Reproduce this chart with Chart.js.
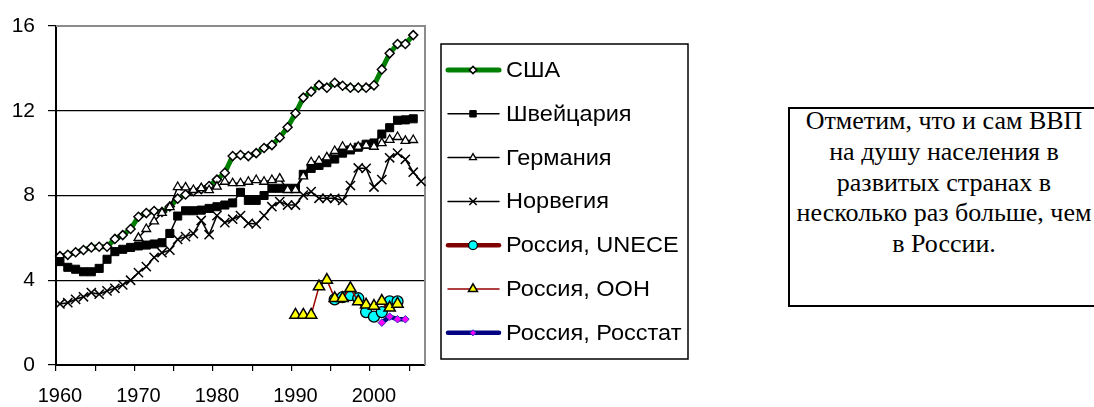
<!DOCTYPE html>
<html>
<head>
<meta charset="utf-8">
<script src="https://cdn.jsdelivr.net/npm/chart.js@4.4.1/dist/chart.umd.min.js"></script>
<style>
  body { margin: 0; background: #fff; width: 1094px; height: 407px; overflow: hidden; position: relative; }
  #chart { position: absolute; left: 0; top: 0; }
  #note {
    position: absolute; left: 788px; top: 107px; width: 312px; height: 196px;
    border: 2px solid #000; box-sizing: content-box;
    font-family: "Liberation Serif", "Times New Roman", serif; font-size: 26px; line-height: 30.8px;
    text-align: center; white-space: nowrap; color: #000;
  }
  #note div { position: relative; top: -3px; left: -2px; }
</style>
</head>
<body>
<canvas id="chart" width="700" height="407"></canvas>
<div id="note"><div>Отметим, что и сам ВВП<br>на душу населения в<br>развитых странах в<br>несколько раз больше, чем<br>в России.</div></div>
<script>
// годы (категории оси X)
const years = [1960, 1961, 1962, 1963, 1964, 1965, 1966, 1967, 1968, 1969,
  1970, 1971, 1972, 1973, 1974, 1975, 1976, 1977, 1978, 1979,
  1980, 1981, 1982, 1983, 1984, 1985, 1986, 1987, 1988, 1989,
  1990, 1991, 1992, 1993, 1994, 1995, 1996, 1997, 1998, 1999,
  2000, 2001, 2002, 2003, 2004, 2005, 2006];

const yTicks = [0, 4, 8, 12, 16];

// США, 1960-2005
const usa = [5.14, 5.2, 5.32, 5.43, 5.55, 5.58, 5.58, 5.95, 6.13, 6.42,
  7.0, 7.17, 7.27, 7.22, 7.48, 7.85, 8.05, 8.2, 8.3, 8.45,
  8.75, 9.07, 9.86, 9.91, 9.86, 10.0, 10.24, 10.38, 10.74, 11.22,
  11.88, 12.62, 12.9, 13.21, 13.09, 13.32, 13.18, 13.09, 13.09, 13.09,
  13.2, 13.95, 14.71, 15.15, 15.15, 15.57];
// Швейцария, 1960-2005
const swiss = [4.88, 4.61, 4.52, 4.4, 4.4, 4.56, 4.99, 5.35, 5.46, 5.55,
  5.62, 5.66, 5.71, 5.77, 6.21, 7.03, 7.28, 7.28, 7.31, 7.39,
  7.47, 7.55, 7.65, 8.15, 7.77, 7.77, 8.0, 8.34, 8.34, 8.34,
  8.34, 9.0, 9.28, 9.42, 9.55, 9.72, 10.0, 10.15, 10.28, 10.42,
  10.48, 10.9, 11.2, 11.55, 11.57, 11.62];
// Германия, 1970-2005
const germany = [6.0, 6.42, 6.78, 7.18, 7.45, 8.4, 8.38, 8.26, 8.35, 8.25,
  8.42, 8.65, 8.58, 8.58, 8.65, 8.73, 8.65, 8.73, 8.8, 8.26,
  8.26, 8.9, 9.57, 9.63, 9.8, 10.1, 10.3, 10.22, 10.3, 10.36,
  10.3, 10.47, 10.63, 10.76, 10.58, 10.62];
// Норвегия, 1960-2006
const norway = [2.88, 2.94, 3.1, 3.22, 3.42, 3.34, 3.5, 3.62, 3.78, 4.0,
  4.36, 4.64, 5.08, 5.3, 5.42, 5.93, 6.06, 6.2, 6.82, 6.15,
  7.05, 6.72, 6.88, 7.05, 6.69, 6.66, 7.05, 7.47, 7.71, 7.55,
  7.55, 8.02, 8.18, 7.87, 7.87, 7.87, 7.77, 8.47, 9.3, 9.28,
  8.4, 8.75, 9.78, 10.0, 9.71, 9.1, 8.67];
// Россия, UNECE, 1995-2003
const rusUnece = [3.1, 3.2, 3.3, 3.15, 2.5, 2.28, 2.5, 3.0, 3.0];
// Россия, ООН, 1990-2003
const rusUn = [2.36, 2.36, 2.36, 3.7, 4.01, 3.15, 3.15, 3.62, 3.0, 2.84,
  2.78, 3.02, 2.7, 2.88];
// Россия, Росстат, 2001-2004
const rusRosstat = [2.0, 2.28, 2.16, 2.16];

// выравниваем ряд по оси годов
function pad(startYear, values) {
  return years.map(y => {
    const i = y - startYear;
    return i >= 0 && i < values.length ? values[i] : null;
  });
}

const FONT = '"Liberation Sans", Arial, sans-serif';

const datasets = [
  { label: "США", data: pad(1960, usa), borderColor: "#008000", borderWidth: 5,
    pointStyle: "rectRot", pointRadius: 4.5, pointBackgroundColor: "#fff", pointBorderColor: "#000", pointBorderWidth: 1.5 },
  { label: "Швейцария", data: pad(1960, swiss), borderColor: "#000", borderWidth: 1.5,
    pointStyle: "rect", pointRadius: 5.7, pointBackgroundColor: "#000", pointBorderColor: "#000", pointBorderWidth: 1 },
  { label: "Германия", data: pad(1970, germany), borderColor: "#000", borderWidth: 1.5,
    pointStyle: "triangle", pointRadius: 5, pointBackgroundColor: "#fff", pointBorderColor: "#000", pointBorderWidth: 1.3 },
  { label: "Норвегия", data: pad(1960, norway), borderColor: "#000", borderWidth: 1.5,
    pointStyle: "crossRot", pointRadius: 6.5, pointBackgroundColor: "#000", pointBorderColor: "#000", pointBorderWidth: 1.5 },
  { label: "Россия, UNECE", data: pad(1995, rusUnece), borderColor: "#800000", borderWidth: 4.5,
    pointStyle: "circle", pointRadius: 5.5, pointBackgroundColor: "#00ffff", pointBorderColor: "#000", pointBorderWidth: 1.3 },
  { label: "Россия, ООН", data: pad(1990, rusUn), borderColor: "#990000", borderWidth: 1.5,
    pointStyle: "triangle", pointRadius: 6.5, pointBackgroundColor: "#ffff00", pointBorderColor: "#000", pointBorderWidth: 1.5 },
  { label: "Россия, Росстат", data: pad(2001, rusRosstat), borderColor: "#000080", borderWidth: 4.5,
    pointStyle: "rectRot", pointRadius: 3.8, pointBackgroundColor: "#ff00ff", pointBorderColor: "#3030c0", pointBorderWidth: 1 }
];
// как в Excel: следующий ряд рисуется поверх предыдущего
datasets.forEach((ds, i) => {
  ds.order = datasets.length - i;
  ds.tension = 0;
  ds.fill = false;
  ds.pointHoverRadius = ds.pointRadius;
});

// рамка области построения (серая сверху и справа)
const plotBorder = {
  id: "plotBorder",
  beforeDatasetsDraw(chart) {
    const { ctx, chartArea: a } = chart;
    ctx.save();
    ctx.strokeStyle = "#8c8c8c";
    ctx.lineWidth = 2;
    ctx.beginPath();
    ctx.moveTo(a.left, a.top);
    ctx.lineTo(a.right, a.top);
    ctx.lineTo(a.right, a.bottom);
    ctx.stroke();
    ctx.restore();
  }
};

// легенда в рамке, как в Excel
const boxLegend = {
  id: "boxLegend",
  afterDraw(chart) {
    const ctx = chart.ctx;
    const left = 441, top = 44, right = 688, bottom = 359;
    ctx.save();
    ctx.fillStyle = "#fff";
    ctx.fillRect(left, top, right - left, bottom - top);
    ctx.strokeStyle = "#000";
    ctx.lineWidth = 1.5;
    ctx.strokeRect(left, top, right - left, bottom - top);
    ctx.font = "22px " + FONT;
    ctx.textBaseline = "middle";
    chart.data.datasets.forEach((ds, i) => {
      const y = 70 + i * 43.8;
      ctx.strokeStyle = ds.borderColor;
      ctx.lineWidth = ds.borderWidth;
      ctx.lineCap = "round";
      ctx.beginPath();
      ctx.moveTo(448, y);
      ctx.lineTo(499, y);
      ctx.stroke();
      ctx.lineCap = "butt";
      ctx.fillStyle = ds.pointBackgroundColor;
      ctx.strokeStyle = ds.pointBorderColor;
      ctx.lineWidth = ds.pointBorderWidth;
      Chart.helpers.drawPoint(ctx, {
        pointStyle: ds.pointStyle, radius: ds.pointRadius * 0.8,
        borderWidth: ds.pointBorderWidth, rotation: 0
      }, 473, y);
      ctx.fillStyle = "#000";
      ctx.save();
      ctx.translate(506, y + 1);
      ctx.scale(1.07, 1);
      ctx.fillText(ds.label, 0, 0);
      ctx.restore();
    });
    ctx.restore();
  }
};

new Chart(document.getElementById("chart"), {
  type: "line",
  data: { labels: years, datasets: datasets },
  options: {
    responsive: false,
    animation: false,
    layout: { padding: { top: 26, right: 700 - 425, left: 0, bottom: 0 } },
    plugins: { legend: { display: false }, tooltip: { enabled: false } },
    scales: {
      x: {
        type: "category",
        offset: true,
        afterFit(scale) { scale.height = 42; },
        grid: {
          offset: true,
          drawOnChartArea: false,
          drawTicks: true,
          tickLength: 6,
          lineWidth: 1.2,
          color: ctx => (years[ctx.index] !== undefined && years[ctx.index] % 5 === 0) ? "#000" : "rgba(0,0,0,0)"
        },
        border: { display: true, color: "#000", width: 2 },
        ticks: {
          autoSkip: false,
          maxRotation: 0,
          minRotation: 0,
          padding: 13,
          color: "#000",
          font: { family: FONT, size: 20 },
          callback: (val, i) => years[i] % 10 === 0 ? String(years[i]) : ""
        }
      },
      y: {
        min: yTicks[0],
        max: yTicks[yTicks.length - 1],
        afterFit(scale) { scale.width = 56; },
        afterBuildTicks(scale) { scale.ticks = yTicks.map(v => ({ value: v })); },
        grid: {
          color: ctx => ctx.tick && ctx.tick.value === 16 ? "#8c8c8c" : "#000",
          tickColor: "#000",
          lineWidth: 1.2,
          tickLength: 8
        },
        border: { display: true, color: "#000", width: 2 },
        ticks: {
          padding: 13,
          color: "#000",
          font: { family: FONT, size: 21 }
        }
      }
    }
  },
  plugins: [plotBorder, boxLegend]
});
</script>
</body>
</html>
